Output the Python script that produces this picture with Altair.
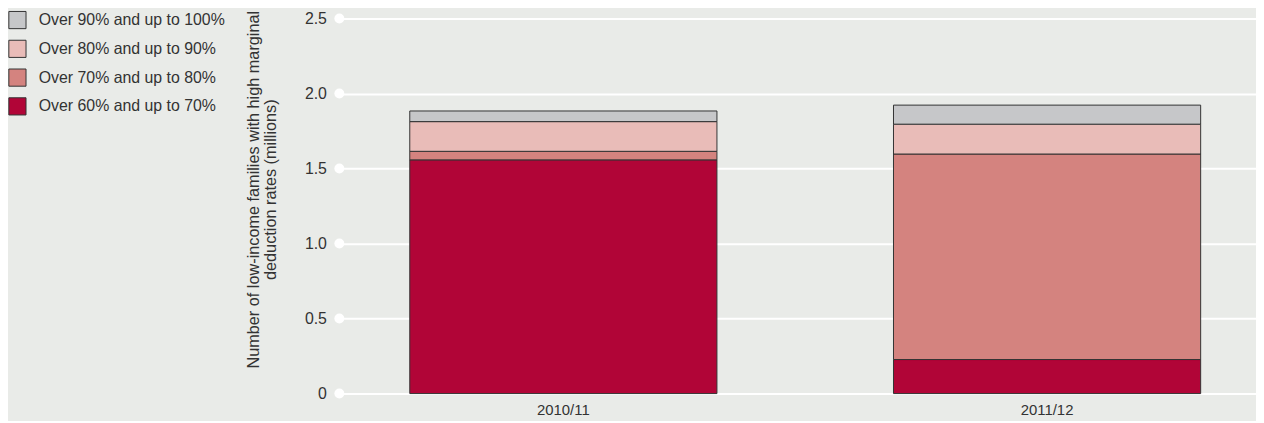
import altair as alt
import pandas as pd

years = ["2010/11", "2011/12"]
bands = [
    "Over 60% and up to 70%",
    "Over 70% and up to 80%",
    "Over 80% and up to 90%",
    "Over 90% and up to 100%",
]
v60 = [1.558, 0.227]
v70 = [0.057, 1.370]
v80 = [0.198, 0.199]
v90 = [0.071, 0.127]
colors = ["#b10537", "#d4837f", "#e9bcb8", "#c6c7c9"]
tick_values = [0, 0.5, 1.0, 1.5, 2.0, 2.5]

rows = []
for i, y in enumerate(years):
    for k, (b, vals) in enumerate(zip(bands, [v60, v70, v80, v90])):
        rows.append({"year": y, "band": b, "value": vals[i], "rank": k})
df = pd.DataFrame(rows)
ticks_df = pd.DataFrame({"t": tick_values})

FONT = "Liberation Sans"
TXT = "#333333"

yscale = alt.Scale(domain=[0, 2.5], nice=False, zero=True)

bars = alt.Chart(df).mark_bar(stroke="#333333", strokeWidth=1).encode(
    x=alt.X(
        "year:N",
        sort=years,
        scale=alt.Scale(paddingInner=0.365, paddingOuter=0.13, align=0.56),
        axis=alt.Axis(
            title=None, labelAngle=0, domain=False, ticks=False,
            labelFontSize=15, labelColor=TXT, labelPadding=9, labelFont=FONT,
        ),
    ),
    y=alt.Y(
        "value:Q",
        stack="zero",
        scale=yscale,
        axis=alt.Axis(
            title=["Number of low-income families with high marginal",
                   "deduction rates (millions)"],
            values=tick_values,
            labelExpr="datum.value == 0 ? '0' : format(datum.value, '.1f')",
            domain=False, ticks=False, grid=True, gridColor="white", gridWidth=2,
            labelFontSize=16, labelColor=TXT, labelPadding=13, labelFont=FONT,
            titleFontSize=16.4, titleFontWeight="normal", titleColor=TXT,
            titleFont=FONT, titlePadding=26, titleLineHeight=17, titleY=172,
        ),
    ),
    color=alt.Color(
        "band:N",
        scale=alt.Scale(domain=list(reversed(bands)), range=list(reversed(colors))),
        legend=alt.Legend(
            title=None, orient="none", legendX=-334, legendY=-8,
            symbolType="square", symbolSize=300, symbolStrokeColor="#333333",
            symbolStrokeWidth=1, labelFontSize=16, labelColor=TXT, labelFont=FONT,
            labelOffset=12, rowPadding=6, padding=0, symbolOpacity=1,
            labelLimit=400,
        ),
    ),
    order=alt.Order("rank:Q", sort="ascending"),
)

dots = alt.Chart(ticks_df).mark_circle(color="white", opacity=1, size=100).encode(
    x=alt.value(0),
    y=alt.Y("t:Q", scale=yscale),
)

chart = alt.layer(dots, bars).properties(
    width=924,
    height=378,
    autosize=alt.AutoSizeParams(type="none"),
    padding={"left": 334, "top": 9, "right": 0, "bottom": 26},
).configure(background="#e9ebe8").configure_view(stroke=None)

chart.save("out.html", embed_options={"renderer": "svg", "actions": False})
